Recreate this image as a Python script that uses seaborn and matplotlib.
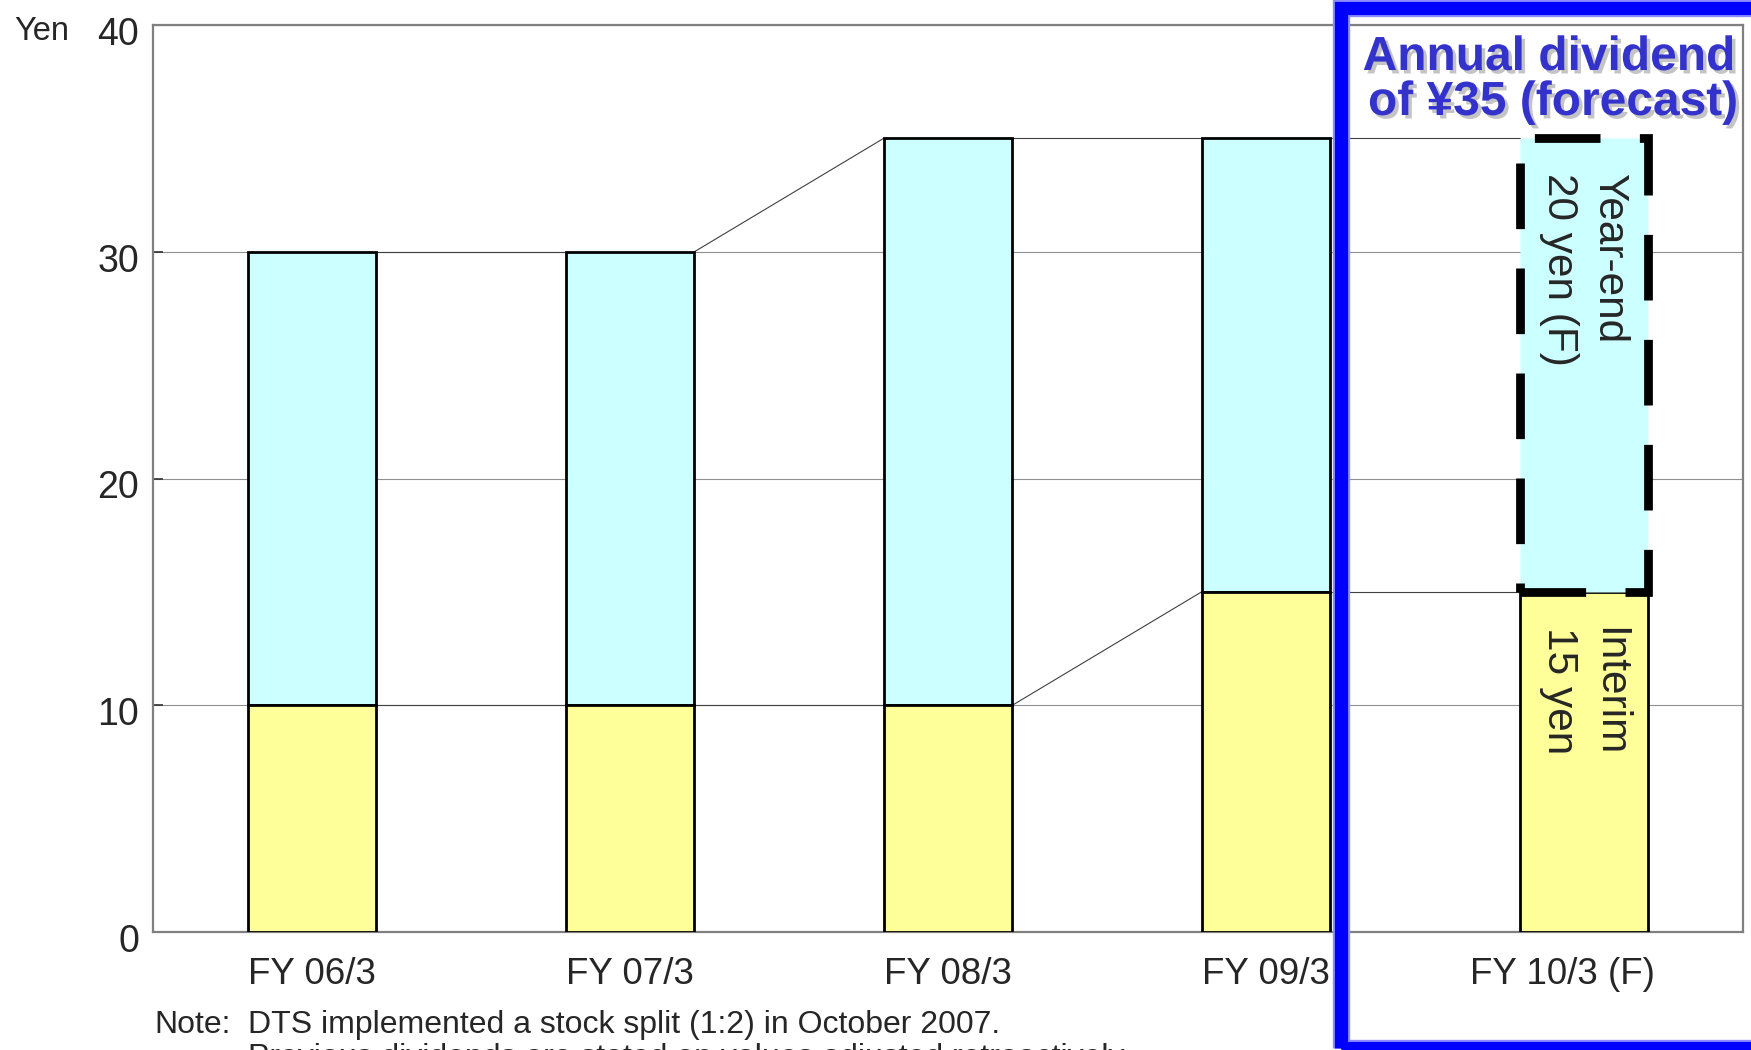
import numpy as np
import pandas as pd
import matplotlib
matplotlib.use('Agg')
import matplotlib.pyplot as plt
import seaborn as sns
from matplotlib.patches import Rectangle
from matplotlib.transforms import ScaledTranslation
import matplotlib.patheffects as pe

# ---- data ----
categories = ['FY 06/3', 'FY 07/3', 'FY 08/3', 'FY 09/3', 'FY 10/3 (F)']
interim = [10, 10, 10, 15, 15]
year_end = [20, 20, 25, 20, 20]
y_ticks = [0, 10, 20, 30, 40]
title_lines = ['Annual dividend', 'of \u00a535 (forecast)']
yearend_label = 'Year-end\n20 yen (F)'
interim_label = 'Interim\n15 yen'
note_head = 'Note:'
note_lines = ['DTS implemented a stock split (1:2) in October 2007.',
              'Previous dividends are stated on values adjusted retroactively.']

sns.set_style('white')
plt.rcParams['font.family'] = ['Liberation Sans', 'DejaVu Sans']

W, H, DPI = 1751, 1050, 100
fig = plt.figure(figsize=(W / DPI, H / DPI), dpi=DPI)
ax = fig.add_axes([153 / W, (H - 932) / H, (1743 - 153) / W, (932 - 25) / H])

df = pd.DataFrame({'cat': categories, 'interim': interim, 'year_end': year_end})
df['total'] = df['interim'] + df['year_end']

CYAN = '#CCFFFF'
YELLOW = '#FFFF99'
BW = 0.405

sns.barplot(data=df, x='cat', y='year_end', bottom=df['interim'].to_numpy(),
            color=CYAN, saturation=1, width=BW, edgecolor='black',
            linewidth=2, errorbar=None, ax=ax, zorder=3)
sns.barplot(data=df, x='cat', y='interim', color=YELLOW, saturation=1,
            width=BW, edgecolor='black', linewidth=2, errorbar=None,
            ax=ax, zorder=3)

# forecast year-end segment: thick dashed outline
fc = ax.patches[len(categories) - 1]
fc.set_linestyle((0, (7.5, 4.5)))
fc.set_linewidth(6.3)
fc.set_zorder(4)

# series lines between bars
for vals in (df['interim'].to_numpy(), df['total'].to_numpy()):
    for i in range(len(categories) - 1):
        ax.plot([i + BW / 2, i + 1 - BW / 2], [vals[i], vals[i + 1]],
                color='#404040', lw=0.8, zorder=2)

ax.set_ylim(0, 40)
ax.set_xlim(-0.5, len(categories) - 0.5)
ax.set_yticks(y_ticks)
ax.set_xlabel('')
ax.set_ylabel('')
ax.set_axisbelow(True)
ax.yaxis.grid(True, color='#909090', lw=0.8)
ax.xaxis.grid(False)
for s in ax.spines.values():
    s.set_visible(True)
    s.set_color('#808080')
    s.set_linewidth(1.6)
ax.tick_params(axis='y', direction='in', length=7, width=1.2, color='#303030',
               labelsize=27, pad=10, left=True)
ax.tick_params(axis='x', length=0, labelsize=26.5, pad=18)

for lab in ax.get_yticklabels():
    lab.set_transform(lab.get_transform() + ScaledTranslation(0, -0.06, fig.dpi_scale_trans))
xl = ax.get_xticklabels()
xl[-1].set_transform(xl[-1].get_transform() + ScaledTranslation(-0.22, 0, fig.dpi_scale_trans))

# rotated labels in forecast bar
for lbl, top in ((yearend_label, df['total'].iloc[-1]), (interim_label, df['interim'].iloc[-1])):
    ax.annotate(lbl, xy=(len(categories) - 1, top),
                xytext=(0, -25), textcoords='offset points', rotation=270,
                ha='center', va='top', multialignment='left', fontsize=30.5,
                linespacing=1.3, zorder=6)

# "Yen" unit label
fig.text(14 / W, 1 - 32 / H, 'Yen', fontsize=23.5, ha='left', va='center')

# note
fig.text(154 / W, 1 - 1033 / H, note_head, fontsize=23, ha='left', va='baseline')
fig.text(248 / W, 1 - 1033 / H, note_lines[0], fontsize=23, ha='left', va='baseline')
fig.text(248 / W, 1 - 1066 / H, note_lines[1], fontsize=23, ha='left', va='baseline')

# blue frame around forecast
frame_kw = dict(transform=fig.transFigure, fill=False, clip_on=False)
x0, y0 = 1341 / W, 2 / H
x1, y1 = 1758 / W, 1042 / H
fig.add_artist(Rectangle((x0, y0), x1 - x0, y1 - y0, edgecolor='#8C8CFF',
                         linewidth=12.5, zorder=9, **frame_kw))
fig.add_artist(Rectangle((x0, y0), x1 - x0, y1 - y0, edgecolor='#0000FF',
                         linewidth=9.5, zorder=10, **frame_kw))

# title with shadow
shadow = [pe.SimplePatchShadow(offset=(2.5, -2.5), shadow_rgbFace='#c4c4c4', alpha=1.0), pe.Normal()]
fig.text(1549 / W, 1 - 70 / H, title_lines[0], fontsize=34.5, fontweight='bold',
         color='#3333CC', ha='center', va='baseline', path_effects=shadow, zorder=11)
fig.text(1553 / W, 1 - 115 / H, title_lines[1], fontsize=34.5, fontweight='bold',
         color='#3333CC', ha='center', va='baseline', path_effects=shadow, zorder=11)

fig.savefig('out.png', dpi=DPI)
